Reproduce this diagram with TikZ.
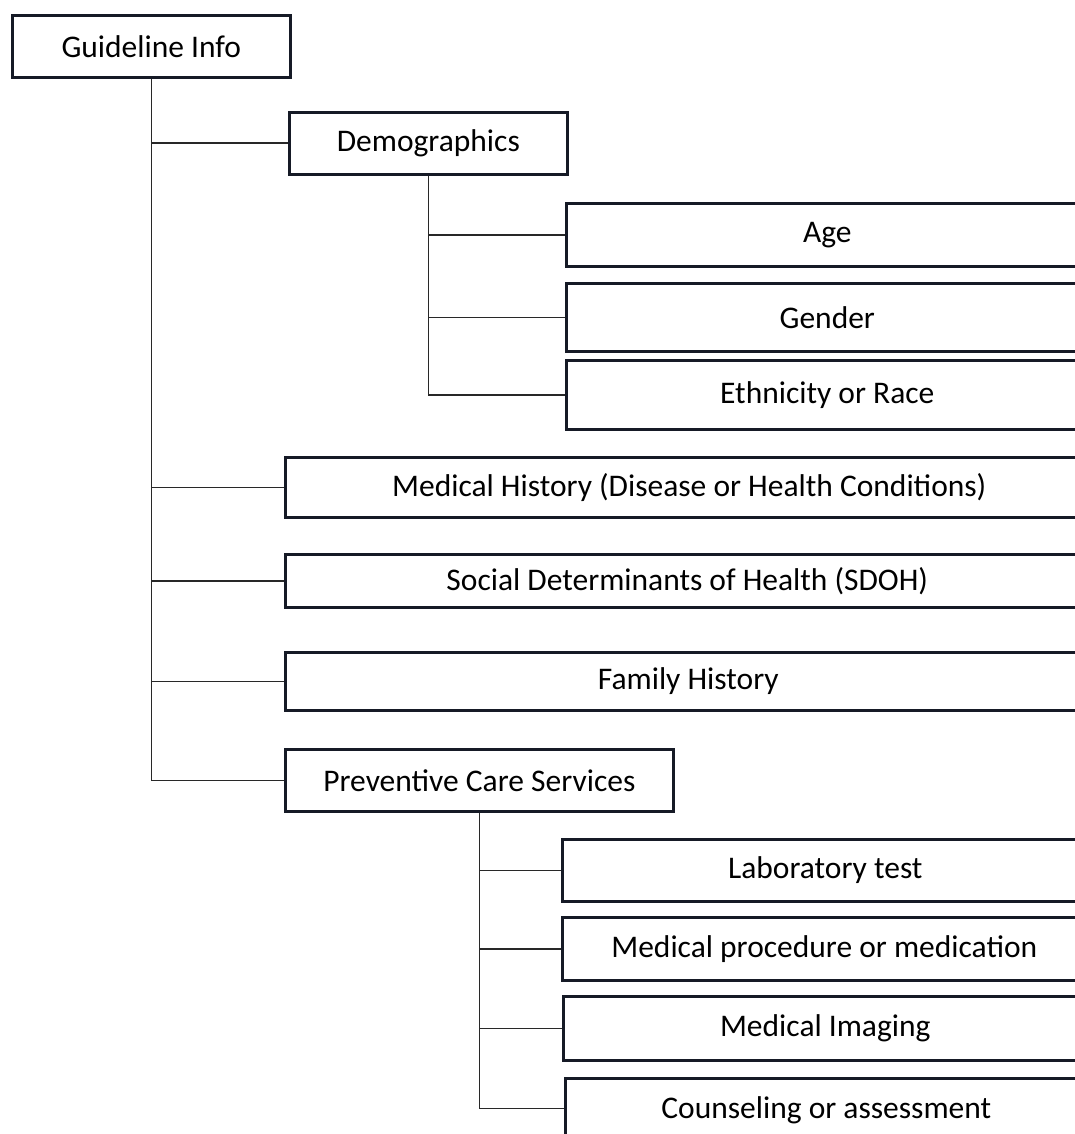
\documentclass[tikz,border=0pt]{standalone}
\usepackage{fontspec}
\setmainfont{Carlito}
\definecolor{boxline}{RGB}{22,26,38}
\definecolor{conline}{RGB}{40,40,40}
\begin{document}
\begin{tikzpicture}[x=1pt,y=-1pt,
  box/.style={draw=boxline, line width=2.6pt, anchor=north west, inner sep=0pt,
    font=\fontsize{31.5}{36}\selectfont, text=black},
  conn/.style={draw=conline, line width=1.6pt}]
\clip (0,0) rectangle (1075,1134);
\fill[white] (0,0) rectangle (1075,1134);
% level 0
\node[box, minimum width=278pt, minimum height=62pt] (gi) at (11,14) {Guideline Info};
% level 1
\node[box, minimum width=278pt, minimum height=62pt] (demo) at (288,111) {Demographics};
\node[box, minimum width=808pt, minimum height=60pt] (mh) at (284,456) {Medical History (Disease or Health Conditions)};
\node[box, minimum width=804pt, minimum height=53pt] (sdoh) at (284,553) {Social Determinants of Health (SDOH)};
\node[box, minimum width=806pt, minimum height=58pt] (fh) at (284,651) {Family History};
\node[box, minimum width=388pt, minimum height=62pt] (pcs) at (284,748) {Preventive Care Services};
% level 2 under Demographics
\node[box, minimum width=522pt, minimum height=63pt] (age) at (565,202) {Age};
\node[box, minimum width=522pt, minimum height=68pt] (gender) at (565,282) {Gender};
\node[box, minimum width=522pt, minimum height=69pt] (eth) at (565,359) {Ethnicity or Race};
% level 2 under Preventive Care Services
\node[box, minimum width=526pt, minimum height=62pt] (lab) at (561,838) {Laboratory test};
\node[box, minimum width=524pt, minimum height=63pt] (proc) at (561,916) {Medical procedure or medication};
\node[box, minimum width=524pt, minimum height=64pt] (img) at (562,995) {Medical Imaging};
\node[box, minimum width=522pt, minimum height=64pt] (coun) at (564,1077) {Counseling or assessment};
% connectors: main trunk
\draw[conn] (gi.south) |- (pcs.west);
\draw[conn] (gi.south |- demo.west) -- (demo.west);
\draw[conn] (gi.south |- mh.west) -- (mh.west);
\draw[conn] (gi.south |- sdoh.west) -- (sdoh.west);
\draw[conn] (gi.south |- fh.west) -- (fh.west);
% demographics subtree
\draw[conn] (demo.south) |- (eth.west);
\draw[conn] (demo.south |- age.west) -- (age.west);
\draw[conn] (demo.south |- gender.west) -- (gender.west);
% preventive care subtree
\draw[conn] (pcs.south) |- ([yshift=2pt]coun.west);
\draw[conn] (pcs.south |- lab.west) -- (lab.west);
\draw[conn] (pcs.south |- proc.west) -- (proc.west);
\draw[conn] (pcs.south |- img.west) -- (img.west);
\end{tikzpicture}
\end{document}
